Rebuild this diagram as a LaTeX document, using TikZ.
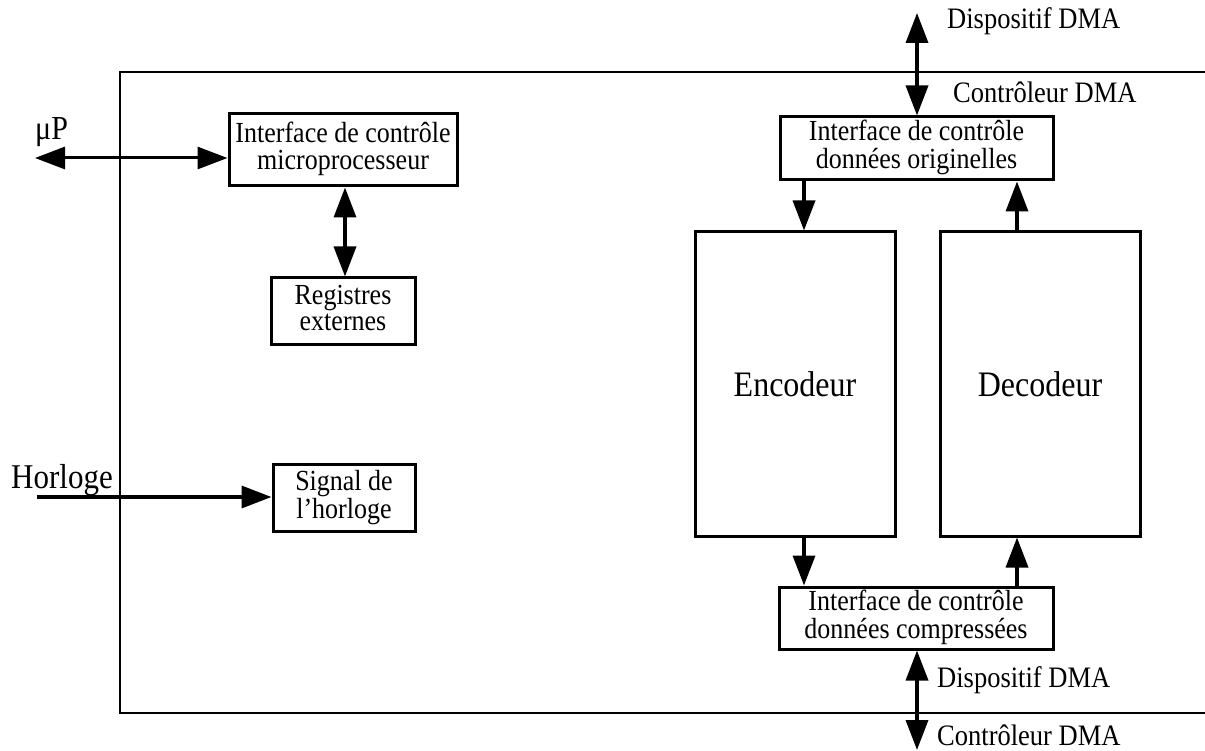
\documentclass[tikz,border=0pt]{standalone}
\usepackage{fontspec}
\setmainfont{Liberation Serif}
\usetikzlibrary{arrows.meta}
\newcommand{\bt}[2][26]{\scalebox{1}[1.12]{\fontsize{#1}{23}\selectfont\begin{tabular}{@{}c@{}}#2\end{tabular}}}
\newcommand{\lt}[2][26.5]{\scalebox{1}[1.12]{\fontsize{#1}{#1}\selectfont #2}}
\begin{document}
\begin{tikzpicture}[x=1pt,y=-1pt,
  box/.style={draw,line width=3pt,inner sep=0pt},
  lab/.style={inner sep=0pt,anchor=base west},
  arr/.style={line width=3.5pt,-{Triangle[length=30pt,width=22pt]}},
  dbl/.style={line width=3.5pt,{Triangle[length=30pt,width=22pt]}-{Triangle[length=30pt,width=22pt]}}]
\useasboundingbox (0,0) rectangle (1205,751);
% frame
\draw[line width=2pt] (1205,72) -- (120,72) -- (120,713) -- (1205,713);
% boxes
\node[box,minimum width=228pt,minimum height=72pt] (A) at (343,150) {\bt{Interface de contrôle\\microprocesseur}};
\node[box,minimum width=144pt,minimum height=67pt] (B) at (343,311.5) {\bt{Registres\\externes}};
\node[box,minimum width=142pt,minimum height=67pt] (C) at (344,498) {\bt{Signal de\\l’horloge}};
\node[box,minimum width=273pt,minimum height=63pt] (D) at (916.5,148.5) {\bt{Interface de contrôle\\données originelles}};
\node[box,minimum width=274pt,minimum height=62pt] (E) at (916,618) {\bt{Interface de contrôle\\données compressées}};
\node[box,minimum width=200pt,minimum height=304pt] (Enc) at (795,384) {\lt[32]{Encodeur}};
\node[box,minimum width=200pt,minimum height=304pt] (Dec) at (1040,384) {\lt[32]{Decodeur}};
% labels
\node[lab] (mu) at (35,140) {\lt[30]{μP}};
\node[lab] (hl) at (11,488) {\lt[31]{Horloge}};
\node[lab] (l1) at (947,29) {\lt{Dispositif DMA}};
\node[lab] (l2) at (953,103) {\lt{Contrôleur DMA}};
\node[lab] (l3) at (937,687) {\lt{Dispositif DMA}};
\node[lab] (l4) at (937,745) {\lt{Contrôleur DMA}};
% coordinates
\coordinate (mup) at (35,158);
\coordinate (hin) at (37,497);
\coordinate (dtop) at (917,13);
\coordinate (dbot) at (917,750);
\coordinate (e1) at ([xshift=9pt]Enc.north);
\coordinate (e2) at ([xshift=9pt]Enc.south);
\coordinate (d1) at ([xshift=-23pt]Dec.north);
\coordinate (d2) at ([xshift=-23pt]Dec.south);
% connectors
\draw[dbl,line width=3pt] (mup) -- (A.west |- mup);
\draw[dbl] ([xshift=2pt]A.south) -- ([xshift=2pt]B.north);
\draw[arr] (hin) -- (hin -| C.west);
\draw[dbl] (dtop) -- (dtop |- D.north);
\draw[arr] (e1 |- D.south) -- (e1);
\draw[arr] (d1) -- (d1 |- D.south);
\draw[arr] (e2) -- (e2 |- E.north);
\draw[arr] (d2 |- E.north) -- (d2);
\draw[dbl] (E.south -| dbot) -- (dbot);
\end{tikzpicture}
\end{document}
